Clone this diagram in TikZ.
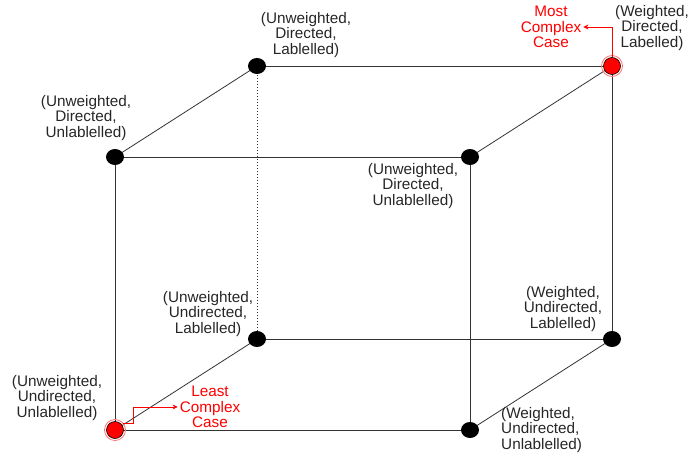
\documentclass[tikz,border=0pt]{standalone}
\usepackage{fontspec}
\setmainfont{Liberation Sans}
\usetikzlibrary{arrows.meta,shapes.geometric,backgrounds}
\begin{document}
\begin{tikzpicture}[x=1pt,y=-1pt,
  edge/.style={draw=black!80,line width=0.8pt},
  vtx/.style={ellipse,fill=black,inner sep=0pt,minimum width=18pt,minimum height=16pt},
  hot/.style={circle,fill=red,draw=black,line width=0.6pt,inner sep=0pt,minimum size=17pt},
  ring/.style={draw=red!55,line width=0.8pt},
  lbl/.style={align=center,font=\fontsize{15.3}{15.5}\selectfont,text=black!85,inner sep=0pt},
  note/.style={lbl,text=red},
  pointer/.style={draw=red,line width=0.7pt,-{Stealth[length=5pt,width=5pt]}}
]
\useasboundingbox (0,0) rectangle (693,460);

% cube corners: front face and back face
\node[vtx] (ftl) at (115,157) {};
\node[vtx] (ftr) at (470,157) {};
\node[hot] (fbl) at (115,430) {};
\node[vtx] (fbr) at (470,430) {};
\node[vtx] (btl) at (257,66) {};
\node[hot] (btr) at (612,66) {};
\node[vtx] (bbl) at (257,339) {};
\node[vtx] (bbr) at (612,339) {};

% halo round the two highlighted corners
\draw[ring] (btr.center) circle (10.5pt);
\draw[ring] (fbl.center) circle (10.5pt);

% cube edges, kept behind the corner dots
\begin{scope}[on background layer]
\path[edge] (ftl.center) -- (ftr.center);
\path[edge] (ftl.center) -- (fbl.center);
\path[edge] (ftr.center) -- (fbr.center);
\path[edge] (fbl.center) -- (fbr.center);
\path[edge] (btl.center) -- (btr.center);
\path[edge] (btr.center) -- (bbr.center);
\path[edge] (bbl.center) -- (bbr.center);
\path[draw=black!80,line width=1pt,dotted] (btl.center) -- (bbl.center);
\path[edge] (ftl.center) -- (btl.center);
\path[edge] (ftr.center) -- (btr.center);
\path[edge] (fbl.center) -- (bbl.center);
\path[edge] (fbr.center) -- (bbr.center);
\end{scope}

% corner labels
\node[lbl] (lbtl) at (306,35) {(Unweighted,\\Directed,\\Lablelled)};
\node[lbl] (lbtr) at (652,28) {(Weighted,\\Directed,\\Labelled)};
\node[lbl] (lftl) at (86,118) {(Unweighted,\\Directed,\\Unlablelled)};
\node[lbl] (lftr) at (413,186) {(Unweighted,\\Directed,\\Unlablelled)};
\node[lbl] (lbbl) at (208,314) {(Unweighted,\\Undirected,\\Lablelled)};
\node[lbl] (lbbr) at (563,309) {(Weighted,\\Undirected,\\Lablelled)};
\node[lbl] (lfbl) at (57,398) {(Unweighted,\\Undirected,\\Unlablelled)};
\node[lbl,align=left,anchor=west] (lfbr) at (501,430) {(Weighted,\\Undirected,\\Unlablelled)};

% extreme cases
\node[note] (most) at (551,27) {Most\\Complex\\Case};
\node[note] (least) at (210,407) {Least\\Complex\\Case};
\draw[pointer] (btr.north) |- ([xshift=2pt]most.east);
\coordinate (start) at (123,423);
\coordinate (bend) at (133,423);
\draw[pointer] (start) -- (bend) |- ([xshift=-2pt]least.west);
\end{tikzpicture}
\end{document}
